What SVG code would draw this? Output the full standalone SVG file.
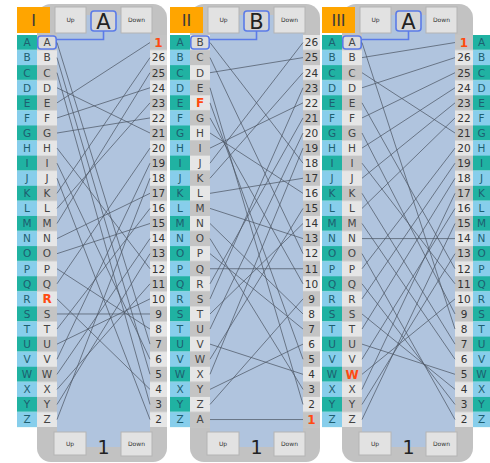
<svg xmlns="http://www.w3.org/2000/svg" xmlns:xlink="http://www.w3.org/1999/xlink" width="490" height="463" viewBox="0 0 490 463">
<style>
  .t { font-family: "DejaVu Sans", "Liberation Sans", sans-serif; font-size: 10.5px; text-anchor: middle; }
  .kc { fill: #1d5f70; }
  .rc { fill: #444444; }
  .nc { fill: #333333; }
  .hot { fill: #ff4a10; font-weight: bold; font-size: 12px; }
  .panel { fill: #c2c2c2; }
  .core { fill: #b0c4de; }
  .tag { fill: #ffa500; }
  .tagtxt { font-family: "DejaVu Sans", sans-serif; font-size: 16px; fill: #3a3a3a; text-anchor: middle; }
  .btn { fill: #e2e2e2; stroke: #b4b4b4; stroke-width: 1; }
  .btxt { font-family: "DejaVu Sans", sans-serif; font-size: 6px; fill: #333333; text-anchor: middle; }
  .win { fill: #d6d6d6; stroke: #5b7be8; stroke-width: 1.6; }
  .wintxt { font-family: "DejaVu Sans", sans-serif; font-size: 21px; fill: #222222; text-anchor: middle; }
  .sel { fill: #dcdcdc; stroke: #5b7be8; stroke-width: 1.6; }
  .lead { fill: none; stroke: #5b7be8; stroke-width: 1.6; }
  .ring { font-family: "DejaVu Sans", sans-serif; font-size: 19px; fill: #222222; text-anchor: middle; }
  .wire line { stroke: #4b5563; stroke-width: 0.9; stroke-opacity: 0.8; }
</style>
<defs>
  <!-- keyboard stripes: teal / sky blue, 15.08 px per row -->
  <pattern id="kb" x="0" y="35" width="500" height="30.16" patternUnits="userSpaceOnUse">
    <rect width="500" height="15.08" fill="#20b2a2"/>
    <rect y="15.08" width="500" height="15.08" fill="#87ceeb"/>
  </pattern>
  <!-- contact stripes, dark row first -->
  <pattern id="gd" x="0" y="35" width="500" height="30.16" patternUnits="userSpaceOnUse">
    <rect width="500" height="15.08" fill="#c4c4c4"/>
    <rect y="15.08" width="500" height="15.08" fill="#e6e6e6"/>
  </pattern>
  <!-- contact stripes, light row first -->
  <pattern id="gl" x="0" y="35" width="500" height="30.16" patternUnits="userSpaceOnUse">
    <rect width="500" height="15.08" fill="#e6e6e6"/>
    <rect y="15.08" width="500" height="15.08" fill="#c4c4c4"/>
  </pattern>
  <!-- A..Z keyboard letters -->
  <g id="az" class="t kc">
    <text y="46.34">A</text><text y="61.42">B</text><text y="76.50">C</text><text y="91.58">D</text>
    <text y="106.66">E</text><text y="121.74">F</text><text y="136.82">G</text><text y="151.90">H</text>
    <text y="166.98">I</text><text y="182.06">J</text><text y="197.14">K</text><text y="212.22">L</text>
    <text y="227.30">M</text><text y="242.38">N</text><text y="257.46">O</text><text y="272.54">P</text>
    <text y="287.62">Q</text><text y="302.70">R</text><text y="317.78">S</text><text y="332.86">T</text>
    <text y="347.94">U</text><text y="363.02">V</text><text y="378.10">W</text><text y="393.18">X</text>
    <text y="408.26">Y</text><text y="423.34">Z</text>
  </g>
</defs>

<!-- Rotor I -->
<g id="rotor-I">
  <rect class="panel" x="37" y="4" width="130" height="458" rx="14"/>
  <rect class="core" x="57" y="15" width="93" height="432"/>
  <rect x="17" y="35" width="20" height="392.08" fill="url(#kb)"/>
  <rect x="37" y="35" width="20" height="392.08" fill="url(#gd)"/>
  <rect x="150" y="35" width="17" height="392.08" fill="url(#gd)"/>
  <use xlink:href="#az" x="27"/>
  <rect class="tag" x="17" y="7" width="33" height="26"/>
  <text class="tagtxt" x="33.5" y="26">I</text>
  <rect class="btn" x="55" y="7" width="31" height="26"/><text class="btxt" x="70.5" y="22">Up</text>
  <rect class="btn" x="121" y="7" width="31" height="26"/><text class="btxt" x="136.5" y="22">Down</text>
  <path class="lead" d="M103.5 31 V39.5 H56"/>
  <rect class="win" x="91" y="11" width="25" height="20" rx="3"/>
  <text class="wintxt" x="103.5" y="28.5">A</text>
  <rect class="sel" x="37.8" y="36" width="18.4" height="13" rx="3"/>
  <g class="t rc">
    <text x="47" y="46.34">A</text><text x="47" y="61.42">B</text><text x="47" y="76.50">C</text><text x="47" y="91.58">D</text>
    <text x="47" y="106.66">E</text><text x="47" y="121.74">F</text><text x="47" y="136.82">G</text><text x="47" y="151.90">H</text>
    <text x="47" y="166.98">I</text><text x="47" y="182.06">J</text><text x="47" y="197.14">K</text><text x="47" y="212.22">L</text>
    <text x="47" y="227.30">M</text><text x="47" y="242.38">N</text><text x="47" y="257.46">O</text><text x="47" y="272.54">P</text>
    <text x="47" y="287.62">Q</text><text class="hot" x="47" y="303.10">R</text><text x="47" y="317.78">S</text><text x="47" y="332.86">T</text>
    <text x="47" y="347.94">U</text><text x="47" y="363.02">V</text><text x="47" y="378.10">W</text><text x="47" y="393.18">X</text>
    <text x="47" y="408.26">Y</text><text x="47" y="423.34">Z</text>
  </g>
  <g class="t nc">
    <text class="hot" x="158.5" y="46.8">1</text><text x="158.5" y="61.42">26</text><text x="158.5" y="76.50">25</text><text x="158.5" y="91.58">24</text>
    <text x="158.5" y="106.66">23</text><text x="158.5" y="121.74">22</text><text x="158.5" y="136.82">21</text><text x="158.5" y="151.90">20</text>
    <text x="158.5" y="166.98">19</text><text x="158.5" y="182.06">18</text><text x="158.5" y="197.14">17</text><text x="158.5" y="212.22">16</text>
    <text x="158.5" y="227.30">15</text><text x="158.5" y="242.38">14</text><text x="158.5" y="257.46">13</text><text x="158.5" y="272.54">12</text>
    <text x="158.5" y="287.62">11</text><text x="158.5" y="302.70">10</text><text x="158.5" y="317.78">9</text><text x="158.5" y="332.86">8</text>
    <text x="158.5" y="347.94">7</text><text x="158.5" y="363.02">6</text><text x="158.5" y="378.10">5</text><text x="158.5" y="393.18">4</text>
    <text x="158.5" y="408.26">3</text><text x="158.5" y="423.34">2</text>
  </g>
  <rect class="btn" x="54" y="432" width="32" height="23"/><text class="btxt" x="70" y="446">Up</text>
  <text class="ring" x="103.5" y="454">1</text>
  <rect class="btn" x="121" y="432" width="31" height="24"/><text class="btxt" x="136.5" y="446">Down</text>
</g>

<!-- Rotor II -->
<g id="rotor-II" transform="translate(153,0)">
  <rect class="panel" x="37" y="4" width="130" height="458" rx="14"/>
  <rect class="core" x="57" y="15" width="93" height="432"/>
  <rect x="17" y="35" width="20" height="392.08" fill="url(#kb)"/>
  <rect x="37" y="35" width="20" height="392.08" fill="url(#gl)"/>
  <rect x="150" y="35" width="17" height="392.08" fill="url(#gl)"/>
  <use xlink:href="#az" x="27"/>
  <rect class="tag" x="17" y="7" width="33" height="26"/>
  <text class="tagtxt" x="33.5" y="26">II</text>
  <rect class="btn" x="55" y="7" width="31" height="26"/><text class="btxt" x="70.5" y="22">Up</text>
  <rect class="btn" x="121" y="7" width="31" height="26"/><text class="btxt" x="136.5" y="22">Down</text>
  <path class="lead" d="M103.5 31 V39.5 H56"/>
  <rect class="win" x="91" y="11" width="25" height="20" rx="3"/>
  <text class="wintxt" x="103.5" y="28.5">B</text>
  <rect class="sel" x="37.8" y="36" width="18.4" height="13" rx="3"/>
  <g class="t rc">
    <text x="47" y="46.34">B</text><text x="47" y="61.42">C</text><text x="47" y="76.50">D</text><text x="47" y="91.58">E</text>
    <text class="hot" x="47" y="107.06">F</text><text x="47" y="121.74">G</text><text x="47" y="136.82">H</text><text x="47" y="151.90">I</text>
    <text x="47" y="166.98">J</text><text x="47" y="182.06">K</text><text x="47" y="197.14">L</text><text x="47" y="212.22">M</text>
    <text x="47" y="227.30">N</text><text x="47" y="242.38">O</text><text x="47" y="257.46">P</text><text x="47" y="272.54">Q</text>
    <text x="47" y="287.62">R</text><text x="47" y="302.70">S</text><text x="47" y="317.78">T</text><text x="47" y="332.86">U</text>
    <text x="47" y="347.94">V</text><text x="47" y="363.02">W</text><text x="47" y="378.10">X</text><text x="47" y="393.18">Y</text>
    <text x="47" y="408.26">Z</text><text x="47" y="423.34">A</text>
  </g>
  <g class="t nc">
    <text x="158.5" y="46.34">26</text><text x="158.5" y="61.42">25</text><text x="158.5" y="76.50">24</text><text x="158.5" y="91.58">23</text>
    <text x="158.5" y="106.66">22</text><text x="158.5" y="121.74">21</text><text x="158.5" y="136.82">20</text><text x="158.5" y="151.90">19</text>
    <text x="158.5" y="166.98">18</text><text x="158.5" y="182.06">17</text><text x="158.5" y="197.14">16</text><text x="158.5" y="212.22">15</text>
    <text x="158.5" y="227.30">14</text><text x="158.5" y="242.38">13</text><text x="158.5" y="257.46">12</text><text x="158.5" y="272.54">11</text>
    <text x="158.5" y="287.62">10</text><text x="158.5" y="302.70">9</text><text x="158.5" y="317.78">8</text><text x="158.5" y="332.86">7</text>
    <text x="158.5" y="347.94">6</text><text x="158.5" y="363.02">5</text><text x="158.5" y="378.10">4</text><text x="158.5" y="393.18">3</text>
    <text x="158.5" y="408.26">2</text><text class="hot" x="158.5" y="423.8">1</text>
  </g>
  <rect class="btn" x="54" y="432" width="32" height="23"/><text class="btxt" x="70" y="446">Up</text>
  <text class="ring" x="103.5" y="454">1</text>
  <rect class="btn" x="121" y="432" width="31" height="24"/><text class="btxt" x="136.5" y="446">Down</text>
</g>

<!-- Rotor III -->
<g id="rotor-III" transform="translate(305,0)">
  <rect class="panel" x="37" y="4" width="131" height="458" rx="14"/>
  <rect class="core" x="57" y="15" width="93" height="432"/>
  <rect x="17" y="35" width="20" height="392.08" fill="url(#kb)"/>
  <rect x="37" y="35" width="20" height="392.08" fill="url(#gd)"/>
  <rect x="150" y="35" width="18" height="392.08" fill="url(#gd)"/>
  <use xlink:href="#az" x="27"/>
  <rect class="tag" x="17" y="7" width="33" height="26"/>
  <text class="tagtxt" x="33.5" y="26">III</text>
  <rect class="btn" x="55" y="7" width="31" height="26"/><text class="btxt" x="70.5" y="22">Up</text>
  <rect class="btn" x="121" y="7" width="31" height="26"/><text class="btxt" x="136.5" y="22">Down</text>
  <path class="lead" d="M103.5 31 V39.5 H56"/>
  <rect class="win" x="91" y="11" width="25" height="20" rx="3"/>
  <text class="wintxt" x="103.5" y="28.5">A</text>
  <rect class="sel" x="37.8" y="36" width="18.4" height="13" rx="3"/>
  <g class="t rc">
    <text x="47" y="46.34">A</text><text x="47" y="61.42">B</text><text x="47" y="76.50">C</text><text x="47" y="91.58">D</text>
    <text x="47" y="106.66">E</text><text x="47" y="121.74">F</text><text x="47" y="136.82">G</text><text x="47" y="151.90">H</text>
    <text x="47" y="166.98">I</text><text x="47" y="182.06">J</text><text x="47" y="197.14">K</text><text x="47" y="212.22">L</text>
    <text x="47" y="227.30">M</text><text x="47" y="242.38">N</text><text x="47" y="257.46">O</text><text x="47" y="272.54">P</text>
    <text x="47" y="287.62">Q</text><text x="47" y="302.70">R</text><text x="47" y="317.78">S</text><text x="47" y="332.86">T</text>
    <text x="47" y="347.94">U</text><text x="47" y="363.02">V</text><text class="hot" x="47" y="378.5">W</text><text x="47" y="393.18">X</text>
    <text x="47" y="408.26">Y</text><text x="47" y="423.34">Z</text>
  </g>
  <g class="t nc">
    <text class="hot" x="159" y="46.8">1</text><text x="159" y="61.42">26</text><text x="159" y="76.50">25</text><text x="159" y="91.58">24</text>
    <text x="159" y="106.66">23</text><text x="159" y="121.74">22</text><text x="159" y="136.82">21</text><text x="159" y="151.90">20</text>
    <text x="159" y="166.98">19</text><text x="159" y="182.06">18</text><text x="159" y="197.14">17</text><text x="159" y="212.22">16</text>
    <text x="159" y="227.30">15</text><text x="159" y="242.38">14</text><text x="159" y="257.46">13</text><text x="159" y="272.54">12</text>
    <text x="159" y="287.62">11</text><text x="159" y="302.70">10</text><text x="159" y="317.78">9</text><text x="159" y="332.86">8</text>
    <text x="159" y="347.94">7</text><text x="159" y="363.02">6</text><text x="159" y="378.10">5</text><text x="159" y="393.18">4</text>
    <text x="159" y="408.26">3</text><text x="159" y="423.34">2</text>
  </g>
  <rect class="btn" x="54" y="432" width="32" height="23"/><text class="btxt" x="70" y="446">Up</text>
  <text class="ring" x="103.5" y="454">1</text>
  <rect class="btn" x="121" y="432" width="31" height="24"/><text class="btxt" x="136.5" y="446">Down</text>
</g>

<!-- Output keyboard column on the right -->
<g id="keys-out">
  <rect x="473" y="35" width="17" height="392.08" fill="url(#kb)"/>
  <use xlink:href="#az" x="481.5"/>
</g>

<!-- Rotor wiring: right contact to left contact -->
<g id="wiring" class="wire">
  <g id="wiring-I">
    <line x1="57" y1="102.86" x2="150" y2="42.54"/>
    <line x1="57" y1="193.34" x2="150" y2="57.62"/>
    <line x1="57" y1="223.50" x2="150" y2="72.70"/>
    <line x1="57" y1="117.94" x2="150" y2="87.78"/>
    <line x1="57" y1="208.42" x2="150" y2="102.86"/>
    <line x1="57" y1="133.02" x2="150" y2="117.94"/>
    <line x1="57" y1="87.78" x2="150" y2="133.02"/>
    <line x1="57" y1="283.82" x2="150" y2="148.10"/>
    <line x1="57" y1="359.22" x2="150" y2="163.18"/>
    <line x1="57" y1="419.54" x2="150" y2="178.26"/>
    <line x1="57" y1="238.58" x2="150" y2="193.34"/>
    <line x1="57" y1="329.06" x2="150" y2="208.42"/>
    <line x1="57" y1="253.66" x2="150" y2="223.50"/>
    <line x1="57" y1="374.30" x2="150" y2="238.58"/>
    <line x1="57" y1="404.46" x2="150" y2="253.66"/>
    <line x1="57" y1="148.10" x2="150" y2="268.74"/>
    <line x1="57" y1="389.38" x2="150" y2="283.82"/>
    <line x1="57" y1="344.14" x2="150" y2="298.90"/>
    <line x1="57" y1="313.98" x2="150" y2="313.98"/>
    <line x1="57" y1="268.74" x2="150" y2="329.06"/>
    <line x1="57" y1="42.54" x2="150" y2="344.14"/>
    <line x1="57" y1="163.18" x2="150" y2="359.22"/>
    <line x1="57" y1="57.62" x2="150" y2="374.30"/>
    <line x1="57" y1="298.90" x2="150" y2="389.38"/>
    <line x1="57" y1="72.70" x2="150" y2="404.46"/>
    <line x1="57" y1="178.26" x2="150" y2="419.54"/>
  </g>
  <g id="wiring-II" transform="translate(153,0)">
    <line x1="57" y1="419.54" x2="150" y2="419.54"/>
    <line x1="57" y1="163.18" x2="150" y2="42.54"/>
    <line x1="57" y1="72.70" x2="150" y2="57.62"/>
    <line x1="57" y1="178.26" x2="150" y2="72.70"/>
    <line x1="57" y1="298.90" x2="150" y2="87.78"/>
    <line x1="57" y1="148.10" x2="150" y2="102.86"/>
    <line x1="57" y1="283.82" x2="150" y2="117.94"/>
    <line x1="57" y1="329.06" x2="150" y2="133.02"/>
    <line x1="57" y1="374.30" x2="150" y2="148.10"/>
    <line x1="57" y1="42.54" x2="150" y2="163.18"/>
    <line x1="57" y1="193.34" x2="150" y2="178.26"/>
    <line x1="57" y1="133.02" x2="150" y2="193.34"/>
    <line x1="57" y1="359.22" x2="150" y2="208.42"/>
    <line x1="57" y1="313.98" x2="150" y2="223.50"/>
    <line x1="57" y1="208.42" x2="150" y2="238.58"/>
    <line x1="57" y1="57.62" x2="150" y2="253.66"/>
    <line x1="57" y1="268.74" x2="150" y2="268.74"/>
    <line x1="57" y1="117.94" x2="150" y2="283.82"/>
    <line x1="57" y1="404.46" x2="150" y2="298.90"/>
    <line x1="57" y1="223.50" x2="150" y2="313.98"/>
    <line x1="57" y1="253.66" x2="150" y2="329.06"/>
    <line x1="57" y1="389.38" x2="150" y2="344.14"/>
    <line x1="57" y1="102.86" x2="150" y2="359.22"/>
    <line x1="57" y1="344.14" x2="150" y2="374.30"/>
    <line x1="57" y1="238.58" x2="150" y2="389.38"/>
    <line x1="57" y1="87.78" x2="150" y2="404.46"/>
  </g>
  <g id="wiring-III" transform="translate(305,0)">
    <line x1="57" y1="57.62" x2="150" y2="42.54"/>
    <line x1="57" y1="87.78" x2="150" y2="57.62"/>
    <line x1="57" y1="117.94" x2="150" y2="72.70"/>
    <line x1="57" y1="148.10" x2="150" y2="87.78"/>
    <line x1="57" y1="178.26" x2="150" y2="102.86"/>
    <line x1="57" y1="208.42" x2="150" y2="117.94"/>
    <line x1="57" y1="72.70" x2="150" y2="133.02"/>
    <line x1="57" y1="268.74" x2="150" y2="148.10"/>
    <line x1="57" y1="298.90" x2="150" y2="163.18"/>
    <line x1="57" y1="329.06" x2="150" y2="178.26"/>
    <line x1="57" y1="389.38" x2="150" y2="193.34"/>
    <line x1="57" y1="359.22" x2="150" y2="208.42"/>
    <line x1="57" y1="419.54" x2="150" y2="223.50"/>
    <line x1="57" y1="238.58" x2="150" y2="238.58"/>
    <line x1="57" y1="404.46" x2="150" y2="253.66"/>
    <line x1="57" y1="102.86" x2="150" y2="268.74"/>
    <line x1="57" y1="163.18" x2="150" y2="283.82"/>
    <line x1="57" y1="374.30" x2="150" y2="298.90"/>
    <line x1="57" y1="133.02" x2="150" y2="313.98"/>
    <line x1="57" y1="42.54" x2="150" y2="329.06"/>
    <line x1="57" y1="193.34" x2="150" y2="344.14"/>
    <line x1="57" y1="223.50" x2="150" y2="359.22"/>
    <line x1="57" y1="344.14" x2="150" y2="374.30"/>
    <line x1="57" y1="313.98" x2="150" y2="389.38"/>
    <line x1="57" y1="283.82" x2="150" y2="404.46"/>
    <line x1="57" y1="253.66" x2="150" y2="419.54"/>
  </g>
</g>
</svg>
